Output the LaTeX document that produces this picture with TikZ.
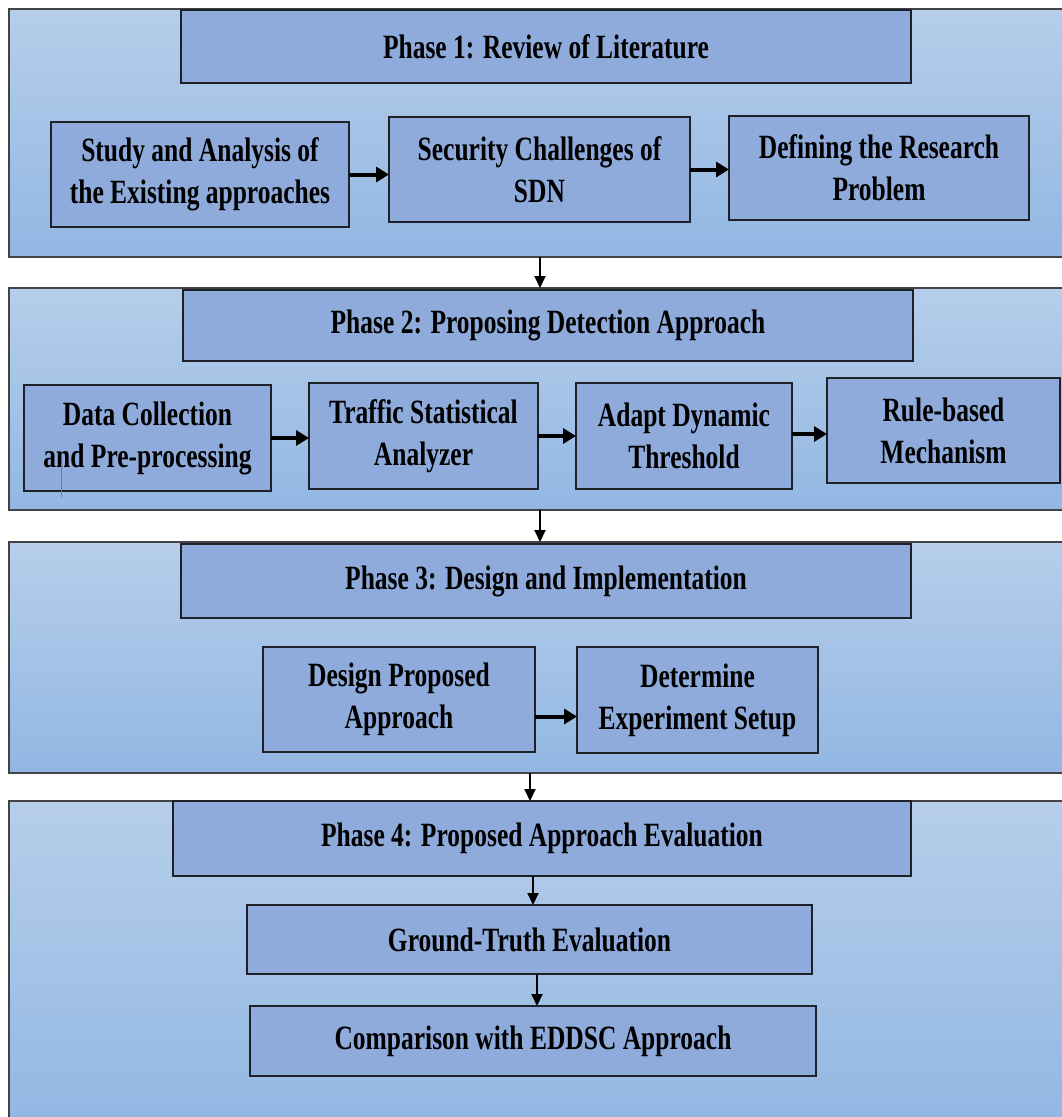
\documentclass[tikz,border=0pt]{standalone}
\usepackage{fontspec}
\setmainfont{Liberation Serif}[FakeStretch=0.75]
\usetikzlibrary{arrows.meta}
\definecolor{paneltop}{HTML}{B6CEEA}
\definecolor{panelbot}{HTML}{92B7E3}
\definecolor{boxfill}{HTML}{8EABDC}
\definecolor{edge}{HTML}{1E2228}
\definecolor{stray}{HTML}{8C785A}
\begin{document}
\begin{tikzpicture}[x=1pt,y=-1pt,
  panel/.style={draw=edge!85!white, line width=1.6pt, top color=paneltop, bottom color=panelbot, minimum width=1066pt, inner sep=0pt, outer sep=0pt},
  box/.style={draw=edge, line width=1.8pt, fill=boxfill, inner sep=0pt, outer sep=0pt, align=center,
    font=\fontsize{34}{42}\selectfont\bfseries},
  harrow/.style={line width=4pt, -{Triangle[length=13pt,width=15pt]}},
  varrow/.style={line width=2pt, -{Triangle[length=12pt,width=11pt]}}
]
\useasboundingbox (0,0) rectangle (1062,1117);
\clip (0,0) rectangle (1062,1117);
\fill[white] (0,0) rectangle (1062,1117);

% panels
\node[panel, minimum height=248pt] (p1) at (542,133) {};
\node[panel, minimum height=222pt] (p2) at (542,399) {};
\node[panel, minimum height=231pt] (p3) at (542,657.5) {};
\node[panel, minimum height=329pt] (p4) at (542,965.5) {};

% phase 1
\node[box, minimum width=730pt, minimum height=73pt] (t1) at (546,46.5) {Phase 1: Review of Literature};
\node[box, minimum width=298pt, minimum height=105pt] (b11) at (200,174.5) {Study and Analysis of\\the Existing approaches};
\node[box, minimum width=301pt, minimum height=105pt] (b12) at (539.5,169.5) {Security Challenges of\\SDN};
\node[box, minimum width=300pt, minimum height=104pt] (b13) at (879,168) {Defining the Research\\Problem};

% phase 2
\node[box, minimum width=730pt, minimum height=71pt] (t2) at (548,325.5) {Phase 2: Proposing Detection Approach};
\node[box, minimum width=247pt, minimum height=106pt] (b21) at (147.5,438) {Data Collection\\and Pre-processing};
\node[box, minimum width=229pt, minimum height=106pt] (b22) at (423.5,436) {Traffic Statistical\\Analyzer};
\node[box, minimum width=216pt, minimum height=106pt] (b23) at (684,436) {Adapt Dynamic\\Threshold};
\node[box, minimum width=233pt, minimum height=105pt] (b24) at (943.5,430.5) {Rule-based\\Mechanism};

% phase 3
\node[box, minimum width=730pt, minimum height=74pt] (t3) at (546,581) {Phase 3: Design and Implementation};
\node[box, minimum width=272pt, minimum height=105pt] (b31) at (399,699.5) {Design Proposed\\Approach};
\node[box, minimum width=241pt, minimum height=106pt] (b32) at (697.5,700) {Determine\\Experiment Setup};

% phase 4
\node[box, minimum width=738pt, minimum height=75pt] (t4) at (542,838.5) {Phase 4: Proposed Approach Evaluation};
\node[box, minimum width=565pt, minimum height=69pt] (b41) at (529.5,939.5) {Ground-Truth Evaluation};
\node[box, minimum width=566pt, minimum height=70pt] (b42) at (533,1041) {Comparison with EDDSC Approach};

% horizontal arrows
\draw[harrow] (b11.east) -- (b11.east -| b12.west);
\draw[harrow] (b12.east) -- (b12.east -| b13.west);
\draw[harrow] (b21.east) -- (b21.east -| b22.west);
\draw[harrow] (b22.east) -- (b22.east -| b23.west);
\draw[harrow] ([yshift=2pt]b23.east) -- ([yshift=2pt]b23.east -| b24.west);
\draw[harrow] ([yshift=-17pt]b31.east) -- ([yshift=-17pt]b31.east -| b32.west);

% vertical arrows
\coordinate (x12) at (540,0);
\coordinate (x23) at (540,0);
\coordinate (x34) at (530,0);
\coordinate (x4a) at (533,0);
\coordinate (x4b) at (537,0);
\draw[varrow] (p1.south -| x12) -- (p2.north -| x12);
\draw[varrow] (p2.south -| x23) -- (p3.north -| x23);
\draw[varrow] (p3.south -| x34) -- (p4.north -| x34);
\draw[varrow] (t4.south -| x4a) -- (b41.north -| x4a);
\draw[varrow] (b41.south -| x4b) -- (b42.north -| x4b);

% stray mark
\coordinate (m1) at (61,463);
\coordinate (m2) at (61,497);
\draw[line width=1pt, draw=stray] (m1) -- (m2);
\end{tikzpicture}
\end{document}
